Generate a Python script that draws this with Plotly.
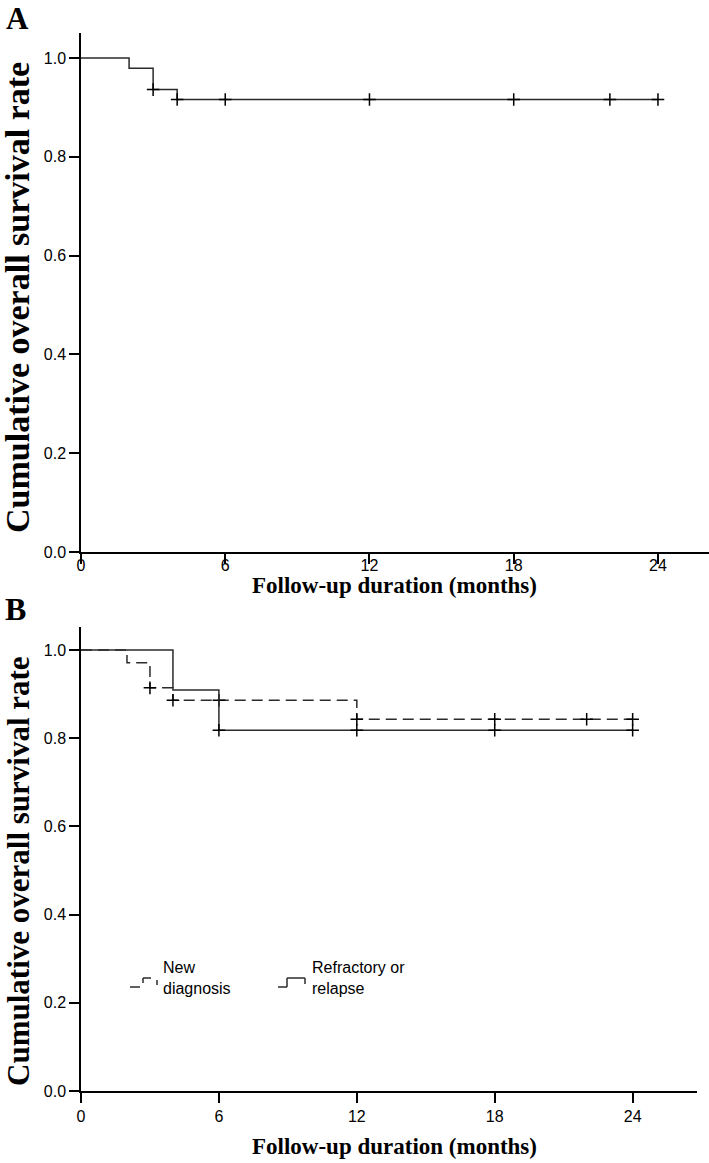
import plotly.graph_objects as go

W, H = 709, 1163

# ---------------- data ----------------
# Panel A: overall
a_times = [0, 2, 3, 4, 24]
a_surv = [1.0, 0.979, 0.936, 0.916, 0.916]
a_cens_t = [3, 4, 6, 12, 18, 22, 24]
a_cens_s = [0.936, 0.916, 0.916, 0.916, 0.916, 0.916, 0.916]

# Panel B: New diagnosis (dashed)
nd_times = [0, 2, 3, 4, 12, 24]
nd_surv = [1.0, 0.971, 0.914, 0.886, 0.843, 0.843]
nd_cens_t = [3, 4, 6, 12, 18, 22, 24]
nd_cens_s = [0.914, 0.886, 0.886, 0.843, 0.843, 0.843, 0.843]

# Panel B: Refractory or relapse (solid)
rr_times = [0, 4, 6, 24]
rr_surv = [1.0, 0.909, 0.818, 0.818]
rr_cens_t = [6, 12, 18, 24]
rr_cens_s = [0.818, 0.818, 0.818, 0.818]

x_ticks = [0, 6, 12, 18, 24]
y_ticks = [0.0, 0.2, 0.4, 0.6, 0.8, 1.0]
y_ticklabels = ["0.0", "0.2", "0.4", "0.6", "0.8", "1.0"]

x_title = "Follow-up duration (months)"
y_title = "Cumulative overall survival rate"

# ---------------- helpers (page pixel -> paper) ----------------
def px(x):
    return x / W

def py(y):
    return 1 - y / H

LINE_COL = "#2b2b2b"
cross = dict(symbol="cross-thin", size=9, line=dict(width=1.5, color="black"), color="black")

fig = go.Figure()

fig.add_trace(go.Scatter(x=a_times, y=a_surv, mode="lines", line=dict(shape="hv", color=LINE_COL, width=1.5),
                         xaxis="x", yaxis="y", showlegend=False))
fig.add_trace(go.Scatter(x=a_cens_t, y=a_cens_s, mode="markers", marker=cross, xaxis="x", yaxis="y", showlegend=False))

fig.add_trace(go.Scatter(x=nd_times, y=nd_surv, mode="lines",
                         line=dict(shape="hv", color=LINE_COL, width=1.5, dash="11px,6px"),
                         xaxis="x2", yaxis="y2", showlegend=False))
fig.add_trace(go.Scatter(x=nd_cens_t, y=nd_cens_s, mode="markers", marker=cross, xaxis="x2", yaxis="y2", showlegend=False))
fig.add_trace(go.Scatter(x=rr_times, y=rr_surv, mode="lines", line=dict(shape="hv", color=LINE_COL, width=1.5),
                         xaxis="x2", yaxis="y2", showlegend=False))
fig.add_trace(go.Scatter(x=rr_cens_t, y=rr_cens_s, mode="markers", marker=cross, xaxis="x2", yaxis="y2", showlegend=False))

tickfont = dict(family="Liberation Sans, Arial", size=16, color="black")
axis_common = dict(showline=True, linecolor="black", linewidth=1.5, ticks="outside", ticklen=10,
                   tickwidth=1.5, tickcolor="black", showgrid=False, zeroline=False, tickfont=tickfont,
                   automargin=False)

fig.update_layout(
    width=W, height=H,
    margin=dict(l=0, r=0, t=0, b=0),
    paper_bgcolor="white", plot_bgcolor="white",
    xaxis=dict(domain=[px(81), 1.0], range=[0, (W - 81) / 24.04], tickvals=x_ticks, anchor="y",
               ticklabelstandoff=-12, **axis_common),
    yaxis=dict(domain=[py(552), py(33)], range=[0, 1.0506], tickvals=y_ticks, ticktext=y_ticklabels,
               anchor="x", **axis_common),
    xaxis2=dict(domain=[px(81), px(697)], range=[0, 26.8], tickvals=x_ticks, anchor="y2", **axis_common),
    yaxis2=dict(domain=[py(1091), py(627)], range=[0, 1.052], tickvals=y_ticks, ticktext=y_ticklabels,
                anchor="x2", **axis_common),
)

serif = "Liberation Serif, Times New Roman"
sans = "Liberation Sans, Arial"
ann = []
# panel letters
ann.append(dict(text="A", x=px(4), y=py(18), xanchor="left", yanchor="middle", showarrow=False,
                xref="paper", yref="paper", font=dict(family=serif, size=31, color="black", weight="bold")))
ann.append(dict(text="B", x=px(3), y=py(609), xanchor="left", yanchor="middle", showarrow=False,
                xref="paper", yref="paper", font=dict(family=serif, size=32, color="black", weight="bold")))
# y titles
ann.append(dict(text=y_title, x=px(17), y=py(298), xanchor="center", yanchor="middle", textangle=-90,
                showarrow=False, xref="paper", yref="paper",
                font=dict(family=serif, size=34, color="black", weight="bold")))
ann.append(dict(text=y_title, x=px(18), y=py(871), xanchor="center", yanchor="middle", textangle=-90,
                showarrow=False, xref="paper", yref="paper",
                font=dict(family=serif, size=31, color="black", weight="bold")))
# x titles
ann.append(dict(text=x_title, x=px(394), y=py(585), xanchor="center", yanchor="middle", showarrow=False,
                xref="paper", yref="paper", font=dict(family=serif, size=23, color="black", weight="bold")))
ann.append(dict(text=x_title, x=px(394), y=py(1146), xanchor="center", yanchor="middle", showarrow=False,
                xref="paper", yref="paper", font=dict(family=serif, size=23, color="black", weight="bold")))
# legend text
ann.append(dict(text="New<br>diagnosis", x=px(161), y=py(978), xanchor="left", yanchor="middle", align="left",
                showarrow=False, xref="paper", yref="paper", font=dict(family=sans, size=16, color="black")))
ann.append(dict(text="Refractory or<br>relapse", x=px(310), y=py(978), xanchor="left", yanchor="middle",
                align="left", showarrow=False, xref="paper", yref="paper",
                font=dict(family=sans, size=16, color="black")))
fig.update_layout(annotations=ann)

# legend symbols (step glyphs)
def seg(x0, y0, x1, y1):
    return dict(type="line", xref="paper", yref="paper", x0=px(x0), y0=py(y0), x1=px(x1), y1=py(y1),
                line=dict(color=LINE_COL, width=1.5))

shapes = [
    # dashed step glyph
    seg(130, 987, 140, 987),
    seg(143, 983, 143, 978), seg(143, 978, 151, 978),
    seg(157, 980, 157, 985),
    # solid step glyph
    seg(278, 987, 287, 987), seg(287, 987, 287, 978), seg(287, 978, 305, 978), seg(305, 978, 305, 984),
]
fig.update_layout(shapes=shapes)

fig.write_html("out.html", config={"displayModeBar": False},
               post_script="document.body.style.margin='0';document.body.style.overflow='hidden';")
